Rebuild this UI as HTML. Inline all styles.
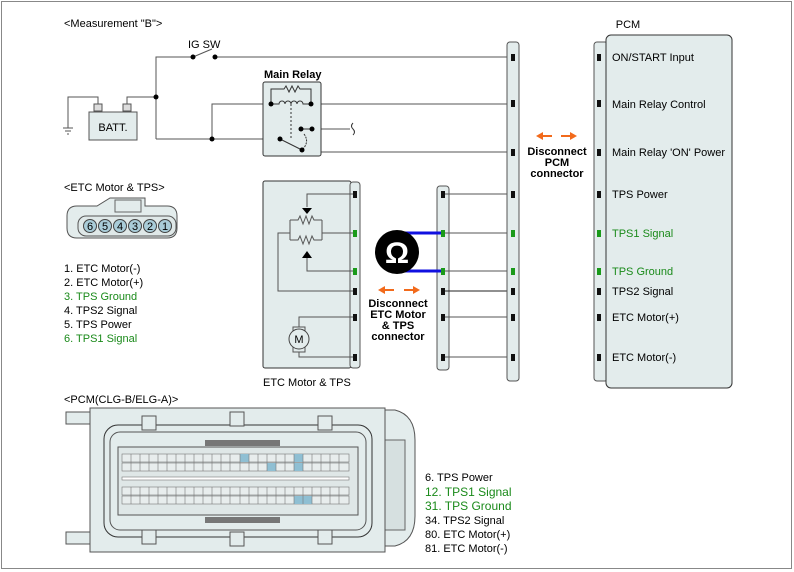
<!DOCTYPE html>
<html><head><meta charset="utf-8"><style>
html,body{margin:0;padding:0;background:#fff}
svg{display:block}
text{font-family:"Liberation Sans",Arial,sans-serif;font-size:11px;fill:#000}
.g{fill:#1a8a1a}
</style></head><body>
<svg width="794" height="572" viewBox="0 0 794 572" xmlns="http://www.w3.org/2000/svg">
<rect x="1.5" y="1.5" width="790" height="567" fill="none" stroke="#888" stroke-width="1"/>
<text x="64" y="27">&lt;Measurement "B"&gt;</text>
<text x="188" y="48">IG SW</text>
<text x="264" y="78" font-weight="bold">Main Relay</text>
<text x="628" y="28" text-anchor="middle">PCM</text>

<g fill="none" stroke="#555" stroke-width="1">
<polyline points="156,139 156,57 193,57"/>
<line x1="215" y1="57" x2="513" y2="57"/>
<line x1="193" y1="57" x2="212" y2="49"/>
<polyline points="127,108 127,97 156,97"/>
<polyline points="98,108 98,97 68,97 68,128"/>
<line x1="156" y1="139" x2="280" y2="139"/>
<polyline points="212,139 212,104 271,104"/>
<line x1="311" y1="104" x2="513" y2="104"/>
<line x1="312" y1="129" x2="350" y2="129"/>
<polyline points="316,129 316,152 513,152"/>
</g>
<g stroke="#555"><line x1="63" y1="128" x2="73" y2="128"/><line x1="65" y1="131" x2="71" y2="131"/><line x1="67" y1="134" x2="69" y2="134"/></g>
<rect x="94" y="104" width="8" height="7" fill="#ddd" stroke="#555"/>
<rect x="123" y="104" width="8" height="7" fill="#ddd" stroke="#555"/>
<rect x="89" y="112" width="48" height="28" fill="#e3ecec" stroke="#555"/>
<text x="113" y="131" text-anchor="middle">BATT.</text>
<rect x="263" y="82" width="58" height="74" rx="2" fill="#e3ecec" stroke="#333"/>
<g fill="none" stroke="#333">
<polyline points="271,104 271,89 284,89 286,86 289,92 292,86 295,92 298,86 300,89 311,89 311,104"/>
<path d="M271,104 h8 a3,3 0 0 1 6,0 a3,3 0 0 1 6,0 a3,3 0 0 1 6,0 a3,3 0 0 1 6,0 h8"/>
<line x1="291" y1="104" x2="291" y2="140" stroke-dasharray="2,2"/>
<line x1="280" y1="139" x2="302" y2="150"/>
<line x1="301" y1="129" x2="312" y2="129"/>
<path d="M304,134 q6,8 -2,16" stroke-dasharray="2,1"/>
<path d="M353,123 q-3,3 0,6 q3,3 0,6"/>
</g>
<g fill="#000">
<circle cx="156" cy="97" r="2.5"/><circle cx="212" cy="139" r="2.5"/>
<circle cx="193" cy="57" r="2.5"/><circle cx="215" cy="57" r="2.5"/>
<circle cx="271" cy="104" r="2.5"/><circle cx="311" cy="104" r="2.5"/>
<circle cx="280" cy="139" r="2.5"/><circle cx="302" cy="150" r="2.5"/>
<circle cx="301" cy="129" r="2.5"/><circle cx="312" cy="129" r="2.5"/>
</g>

<text x="64" y="191">&lt;ETC Motor &amp; TPS&gt;</text>
<path d="M110,198 h35 v8 h22 q10,0 10,10 v12 q0,10 -10,10 h-90 q-10,0 -10,-10 v-12 q0,-10 10,-10 h20 z" fill="#e3ecec" stroke="#555"/>
<rect x="115" y="200" width="26" height="12" fill="none" stroke="#666"/>
<rect x="78" y="216" width="98" height="20" rx="8" fill="#dfe8e8" stroke="#555"/>
<g fill="#a9ccd8" stroke="#444">
<circle cx="90" cy="226" r="6.5"/><circle cx="105" cy="226" r="6.5"/><circle cx="120" cy="226" r="6.5"/><circle cx="135" cy="226" r="6.5"/><circle cx="150" cy="226" r="6.5"/><circle cx="165" cy="226" r="6.5"/>
</g>
<g><text x="90" y="230" text-anchor="middle" style="font-size:11px">6</text><text x="105" y="230" text-anchor="middle">5</text><text x="120" y="230" text-anchor="middle">4</text><text x="135" y="230" text-anchor="middle">3</text><text x="150" y="230" text-anchor="middle">2</text><text x="165" y="230" text-anchor="middle">1</text></g>
<text x="64" y="272">1. ETC Motor(-)</text>
<text x="64" y="286">2. ETC Motor(+)</text>
<text x="64" y="300" class="g">3. TPS Ground</text>
<text x="64" y="314">4. TPS2 Signal</text>
<text x="64" y="328">5. TPS Power</text>
<text x="64" y="342" class="g">6. TPS1 Signal</text>

<rect x="263" y="181" width="88" height="187" rx="2" fill="#e3ecec" stroke="#333"/>
<rect x="350" y="182" width="10" height="186" rx="3" fill="#e3ecec" stroke="#555"/>
<text x="263" y="386">ETC Motor &amp; TPS</text>
<g fill="none" stroke="#555">
<polyline points="355,194 307,194 307,207"/>
<polyline points="290,220 290,240"/><polyline points="322,220 322,240"/>
<polyline points="290,220 298,220 300,216 303,224 306,216 309,224 312,216 314,220 322,220"/>
<polyline points="290,240 298,240 300,236 303,244 306,236 309,244 312,236 314,240 322,240"/>
<line x1="322" y1="233" x2="355" y2="233"/>
<polyline points="290,233 278,233 278,291 355,291"/>
<polyline points="307,258 307,271 355,271"/>
<polyline points="355,317 299,317 299,327"/><polyline points="299,352 299,357 355,357"/>
</g>
<polygon points="302,208 312,208 307,214" fill="#000"/>
<polygon points="302,258 312,258 307,251" fill="#000"/>
<rect x="293" y="327" width="12" height="25" fill="#e3ecec" stroke="#555"/>
<circle cx="299" cy="339" r="10" fill="#e3ecec" stroke="#444"/>
<text x="299" y="343" text-anchor="middle">M</text>

<rect x="437" y="186" width="12" height="184" rx="3" fill="#e3ecec" stroke="#555"/>
<g stroke="#555"><line x1="443" y1="194" x2="513" y2="194"/><line x1="443" y1="233" x2="513" y2="233"/><line x1="443" y1="271" x2="513" y2="271"/><line x1="443" y1="291" x2="513" y2="291" stroke="#222"/><line x1="443" y1="317" x2="513" y2="317"/><line x1="443" y1="357" x2="513" y2="357"/></g>
<g stroke="#1010e0" stroke-width="3"><line x1="405" y1="233" x2="443" y2="233"/><line x1="405" y1="271" x2="443" y2="271"/></g>
<circle cx="397" cy="252" r="22" fill="#000"/>
<text x="397" y="263" text-anchor="middle" style="font-size:30px;font-weight:bold;fill:#fff">Ω</text>
<g fill="#f26a1b"><polygon points="378,290 385,286 385,289 394,289 394,291 385,291 385,294"/><polygon points="420,290 413,286 413,289 404,289 404,291 413,291 413,294"/>
<polygon points="536,136 543,132 543,135 552,135 552,137 543,137 543,140"/><polygon points="577,136 570,132 570,135 561,135 561,137 570,137 570,140"/></g>
<g font-weight="bold" text-anchor="middle"><text x="398" y="307">Disconnect</text><text x="398" y="318">ETC Motor</text><text x="398" y="329">&amp; TPS</text><text x="398" y="340">connector</text>
<text x="557" y="155">Disconnect</text><text x="557" y="166">PCM</text><text x="557" y="177">connector</text></g>

<rect x="507" y="42" width="12" height="339" rx="3" fill="#e3ecec" stroke="#555"/>
<rect x="594" y="42" width="14" height="339" rx="3" fill="#e3ecec" stroke="#555"/>
<rect x="606" y="35" width="126" height="353" rx="5" fill="#e3ecec" stroke="#333"/>
<text x="612" y="61">ON/START Input</text>
<text x="612" y="108">Main Relay Control</text>
<text x="612" y="156">Main Relay 'ON' Power</text>
<text x="612" y="198">TPS Power</text>
<text x="612" y="237" class="g">TPS1 Signal</text>
<text x="612" y="275" class="g">TPS Ground</text>
<text x="612" y="295">TPS2 Signal</text>
<text x="612" y="321">ETC Motor(+)</text>
<text x="612" y="361">ETC Motor(-)</text>
<g fill="#111">
<rect x="511" y="54" width="4" height="7"/><rect x="511" y="100" width="4" height="7"/><rect x="511" y="149" width="4" height="7"/><rect x="511" y="191" width="4" height="7"/><rect x="511" y="288" width="4" height="7"/><rect x="511" y="314" width="4" height="7"/><rect x="511" y="354" width="4" height="7"/>
<rect x="597" y="54" width="4" height="7"/><rect x="597" y="100" width="4" height="7"/><rect x="597" y="149" width="4" height="7"/><rect x="597" y="191" width="4" height="7"/><rect x="597" y="288" width="4" height="7"/><rect x="597" y="314" width="4" height="7"/><rect x="597" y="354" width="4" height="7"/>
<rect x="441" y="191" width="4" height="7"/><rect x="441" y="288" width="4" height="7"/><rect x="441" y="314" width="4" height="7"/><rect x="441" y="354" width="4" height="7"/>
<rect x="353" y="191" width="4" height="7"/><rect x="353" y="288" width="4" height="7"/><rect x="353" y="314" width="4" height="7"/><rect x="353" y="354" width="4" height="7"/>
</g>
<g fill="#1a9a1a">
<rect x="511" y="230" width="4" height="7"/><rect x="511" y="268" width="4" height="7"/><rect x="597" y="230" width="4" height="7"/><rect x="597" y="268" width="4" height="7"/>
<rect x="441" y="230" width="4" height="7"/><rect x="441" y="268" width="4" height="7"/><rect x="353" y="230" width="4" height="7"/><rect x="353" y="268" width="4" height="7"/>
</g>

<text x="64" y="403">&lt;PCM(CLG-B/ELG-A)&gt;</text>
<rect x="66" y="412" width="24" height="12" fill="#e3ecec" stroke="#555"/>
<rect x="66" y="532" width="24" height="12" fill="#e3ecec" stroke="#555"/>
<path d="M385,410 h10 q20,5 20,30 v76 q0,25 -20,30 h-10 z" fill="#e3ecec" stroke="#555"/>
<rect x="385" y="440" width="20" height="90" fill="#d6e0e0" stroke="#666"/>
<rect x="90" y="408" width="295" height="144" fill="#e3ecec" stroke="#555"/>
<rect x="104" y="425" width="268" height="112" rx="14" fill="#e3ecec" stroke="#333"/>
<rect x="110" y="432" width="256" height="98" rx="10" fill="none" stroke="#555"/>
<rect x="118" y="447" width="240" height="68" fill="#dfe7e7" stroke="#555"/>
<rect x="205" y="440" width="75" height="6" fill="#777"/>
<rect x="205" y="517" width="75" height="6" fill="#777"/>
<g fill="#e3ecec" stroke="#555"><rect x="142" y="416" width="14" height="14"/><rect x="230" y="412" width="14" height="14"/><rect x="318" y="416" width="14" height="14"/><rect x="142" y="530" width="14" height="14"/><rect x="230" y="532" width="14" height="14"/><rect x="318" y="530" width="14" height="14"/></g>
<g stroke="#777" stroke-width="0.6">
<rect x="122" y="454" width="227" height="8" fill="#e8eded"/>
<rect x="122" y="463" width="227" height="8" fill="#e8eded"/>
<rect x="122" y="487" width="227" height="8" fill="#e8eded"/>
<rect x="122" y="496" width="227" height="8" fill="#e8eded"/>
</g>
<g fill="#8fbfd3"><rect x="240" y="454" width="9" height="8"/><rect x="294" y="454" width="9" height="8"/><rect x="267" y="463" width="9" height="8"/><rect x="294" y="463" width="9" height="8"/><rect x="294" y="496" width="9" height="8"/><rect x="303" y="496" width="9" height="8"/></g>
<g stroke="#777" stroke-width="0.6">
<path d="M131,454v17M140,454v17M149,454v17M158,454v17M167,454v17M176,454v17M185,454v17M194,454v17M203,454v17M212,454v17M221,454v17M230,454v17M240,454v17M249,454v17M258,454v17M267,454v17M276,454v17M285,454v17M294,454v17M303,454v17M312,454v17M321,454v17M330,454v17M339,454v17"/>
<path d="M131,487v17M140,487v17M149,487v17M158,487v17M167,487v17M176,487v17M185,487v17M194,487v17M203,487v17M212,487v17M221,487v17M230,487v17M240,487v17M249,487v17M258,487v17M267,487v17M276,487v17M285,487v17M294,487v17M303,487v17M312,487v17M321,487v17M330,487v17M339,487v17"/>
</g>
<rect x="122" y="477" width="227" height="3" fill="#fff" stroke="#777" stroke-width="0.6"/>

<text x="425" y="481">6. TPS Power</text>
<text x="425" y="496" class="g" style="font-size:12px">12. TPS1 Signal</text>
<text x="425" y="510" class="g" style="font-size:12px">31. TPS Ground</text>
<text x="425" y="524">34. TPS2 Signal</text>
<text x="425" y="538">80. ETC Motor(+)</text>
<text x="425" y="552">81. ETC Motor(-)</text>
</svg>
</body></html>
